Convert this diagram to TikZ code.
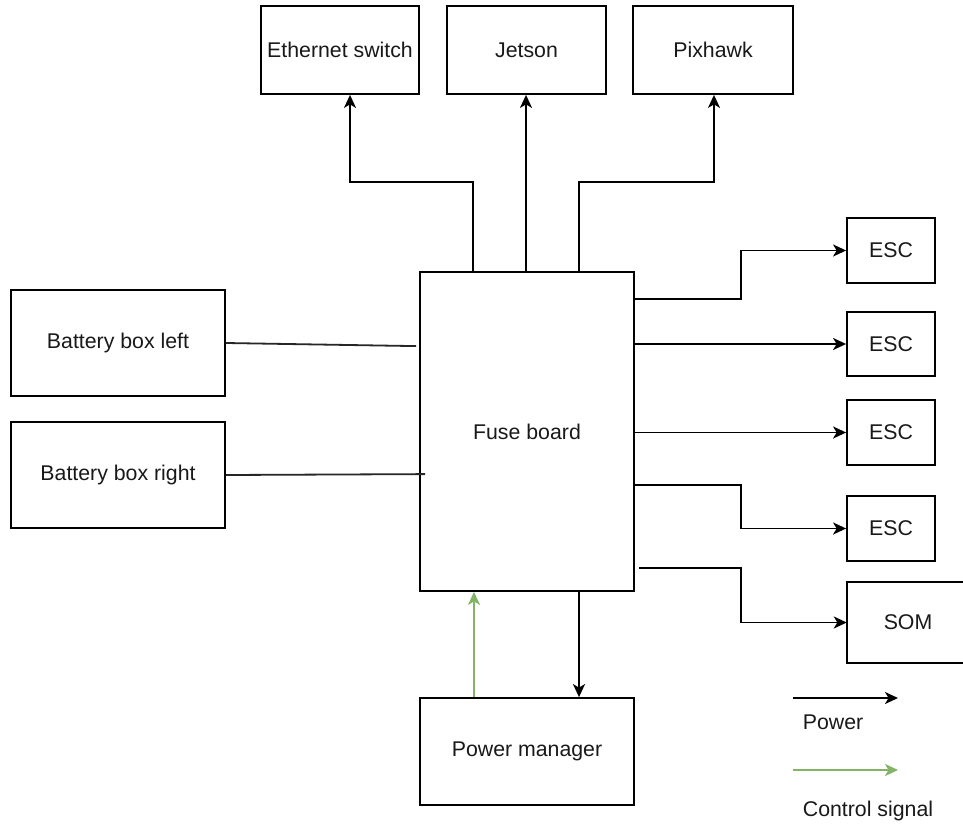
\documentclass[tikz,border=0pt]{standalone}
\usepackage{fontspec}
\setmainfont{Liberation Sans}
\usetikzlibrary{arrows.meta,calc}
\definecolor{ctrlgreen}{RGB}{130,179,102}
\begin{document}
\begin{tikzpicture}[x=1pt,y=-1pt,
  box/.style={draw=black,line width=1.8pt,fill=white,inner sep=0pt,
    font=\fontsize{21.3}{25}\selectfont,text=black!90},
  openbox/.style={draw=none,inner sep=0pt,
    font=\fontsize{21.3}{25}\selectfont,text=black!90},
  edge/.style={draw=black,line width=1.8pt},
  pw/.style={draw=black,line width=1.8pt,-{Stealth[length=13pt,width=12pt,inset=3.5pt]}},
  ctl/.style={draw=ctrlgreen,line width=1.8pt,-{Stealth[length=13pt,width=12pt,inset=3.5pt]}},
  wire/.style={draw=black!85,line width=1.8pt},
  lbl/.style={font=\fontsize{21.3}{25}\selectfont,text=black!90,inner sep=0pt}]
\useasboundingbox (0,0) rectangle (963,827);
\fill[white] (0,0) rectangle (963,827);

% units on the top row
\node[box,minimum width=158pt,minimum height=88pt] (eth) at (340,50) {Ethernet switch};
\node[box,minimum width=159pt,minimum height=88pt] (jet) at (526.5,50) {Jetson};
\node[box,minimum width=160pt,minimum height=88pt] (pix) at (713,50) {Pixhawk};

% central distribution board
\node[box,minimum width=214pt,minimum height=319pt] (fuse) at (527,431.5) {Fuse board};

% batteries
\node[box,minimum width=214pt,minimum height=106pt] (bl) at (118,343) {Battery box left};
\node[box,minimum width=214pt,minimum height=106pt] (br) at (118,475) {Battery box right};

% motor controllers and SOM
\node[box,minimum width=88pt,minimum height=65pt] (esc1) at (891,250.5) {ESC};
\node[box,minimum width=88pt,minimum height=64pt] (esc2) at (891,344) {ESC};
\node[box,minimum width=88pt,minimum height=65pt] (esc3) at (891,432.5) {ESC};
\node[box,minimum width=88pt,minimum height=65pt] (esc4) at (891,528.5) {ESC};
% the SOM box runs on past the right border of the sheet
\node[openbox,minimum width=122pt,minimum height=81pt] (som) at (908,622.5) {SOM};
\draw[edge] (963,0 |- som.north) -- (som.north west) -- (som.south west) -- (963,0 |- som.south);

% power manager
\node[box,minimum width=214pt,minimum height=107pt] (pm) at (527,751.5) {Power manager};

% power to the top row
\draw[pw] ($(fuse.north west)+(54,0)$) -- ++(0,-89) -| ($(eth.south)+(10,0)$);
\draw[pw] ($(fuse.north)+(-1,0)$) -- ($(jet.south)+(-0.5,0)$);
\draw[pw] ($(fuse.north west)+(160,0)$) -- ++(0,-89) -| ($(pix.south)+(1,0)$);

% battery feeds
\draw[wire] (bl.east) -- ($(fuse.north west)+(-3,75)$);
\draw[wire] (br.east) -- ($(fuse.north west)+(6,203)$);

% power to ESCs and SOM
\draw[pw] ($(fuse.north east)+(0,28)$) -- ($(fuse.north east)+(106,28)$) |- (esc1.west);
\draw[pw] (fuse.east |- esc2.west) -- (esc2.west);
\draw[pw] (fuse.east |- esc3.west) -- (esc3.west);
\draw[pw] ($(fuse.north east)+(0,214)$) -- ($(fuse.north east)+(106,214)$) |- (esc4.west);
\draw[pw] ($(fuse.north east)+(4,297)$) -- ($(fuse.north east)+(106,297)$) |- (som.west);

% power manager links
\draw[pw] ($(fuse.south)+(52,0)$) -- ($(pm.north)+(52,0)$);
\draw[ctl] ($(pm.north)+(-53,0)$) -- ($(fuse.south)+(-53,0)$);

% legend
\coordinate (lp0) at (793,698);
\coordinate (lp1) at (898,698);
\coordinate (lc0) at (793,770);
\coordinate (lc1) at (898,770);
\draw[pw] (lp0) -- (lp1);
\node[lbl] (lpt) at (833,722) {Power};
\draw[ctl] (lc0) -- (lc1);
\node[lbl] (lct) at (868,811) {Control signal};
\end{tikzpicture}
\end{document}
